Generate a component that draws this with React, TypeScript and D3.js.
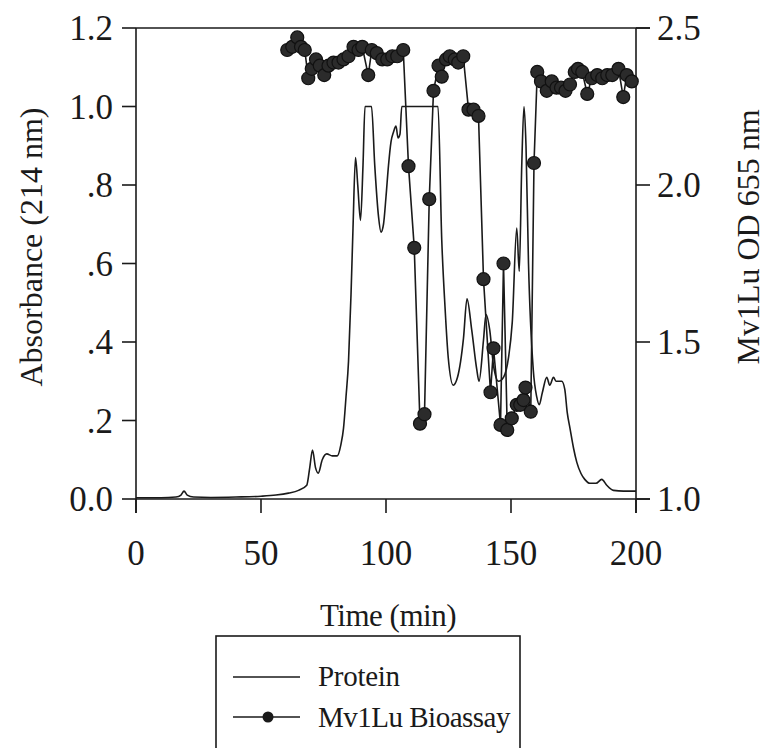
import React from "react";
import * as d3 from "d3";

// Protein absorbance (214 nm) vs time (min)
const proteinTime = [0, 10, 16, 18, 19.2, 20.5, 23, 30, 40, 50, 56, 61, 65, 68.3, 69.5, 70.6, 71.8, 72.9, 74.5, 76.3, 78.5, 80.5, 82, 83, 84, 85, 86, 86.8, 87.8, 88.7, 89.8, 90.8, 91.6, 94.2, 95.5, 97, 98, 99, 100, 101, 102, 103, 104, 104.8, 105.6, 106.3, 120.8, 122.3, 123.6, 124.9, 126.9, 128.6, 131, 132.4, 134.3, 136.3, 137.2, 139, 140, 141.5, 143, 145, 147, 149, 150.5, 152.3, 153.3, 154.3, 155.2, 156, 157, 158.9, 160.3, 161.3, 162.5, 164.3, 165.5, 167, 168, 170.3, 171.5, 172.5, 173.6, 175, 176.3, 178, 179.5, 181.6, 184, 186.3, 188.3, 191, 195, 200];
const proteinAbs = [0.003, 0.003, 0.005, 0.01, 0.02, 0.01, 0.005, 0.004, 0.005, 0.007, 0.01, 0.015, 0.022, 0.035, 0.08, 0.125, 0.08, 0.066, 0.1, 0.115, 0.11, 0.11, 0.14, 0.18, 0.26, 0.35, 0.52, 0.69, 0.87, 0.8, 0.71, 0.85, 1.0, 1.0, 0.85, 0.72, 0.68, 0.7, 0.77, 0.85, 0.91, 0.935, 0.95, 0.92, 0.93, 1.0, 1.0, 0.66, 0.49, 0.36, 0.29, 0.31, 0.41, 0.51, 0.43, 0.33, 0.3, 0.405, 0.47, 0.43, 0.34, 0.3, 0.31, 0.36, 0.45, 0.69, 0.58, 0.85, 1.0, 0.9, 0.6, 0.33, 0.26, 0.24, 0.27, 0.31, 0.29, 0.31, 0.3, 0.3, 0.28, 0.22, 0.18, 0.13, 0.094, 0.065, 0.05, 0.04, 0.04, 0.05, 0.035, 0.022, 0.02, 0.02];

// Mv1Lu bioassay OD 655 nm vs time (min)
const bioTime = [60.5, 62.5, 64.5, 66, 67.5, 68.9, 70.3, 72, 73.5, 75.3, 77, 79, 81, 83, 85, 87, 89, 90.5, 92.9, 94.3, 96.3, 98.5, 100.5, 102.5, 104.5, 106.9, 109, 111.3, 113.6, 115.4, 117.3, 119, 121, 122.3, 124, 125.5, 127.5, 128.9, 130.9, 133, 135, 137, 139, 141.8, 143, 145.8, 147, 148.5, 150.3, 152.3, 153.7, 155, 155.8, 157.9, 159.2, 160.5, 162, 164.3, 166.3, 168.2, 170, 171.8, 173.6, 175.5, 176.8, 178.5, 180.5, 182.3, 184.5, 186.5, 188.5, 190.5, 193, 194.9, 196.3, 198.3];
const bioOD = [2.43, 2.44, 2.47, 2.44, 2.43, 2.34, 2.37, 2.4, 2.38, 2.35, 2.38, 2.39, 2.39, 2.4, 2.41, 2.44, 2.43, 2.44, 2.35, 2.43, 2.42, 2.4, 2.4, 2.41, 2.41, 2.43, 2.06, 1.8, 1.24, 1.27, 1.955, 2.3, 2.38, 2.345, 2.4, 2.41, 2.4, 2.39, 2.41, 2.24, 2.24, 2.22, 1.7, 1.34, 1.48, 1.236, 1.75, 1.22, 1.257, 1.3, 1.3, 1.315, 1.355, 1.278, 2.07, 2.36, 2.33, 2.3, 2.33, 2.31, 2.31, 2.3, 2.32, 2.36, 2.37, 2.36, 2.29, 2.34, 2.35, 2.34, 2.35, 2.35, 2.37, 2.28, 2.35, 2.33];

const xTicks = [0, 50, 100, 150, 200];
const leftTicks = [0, 0.2, 0.4, 0.6, 0.8, 1.0, 1.2];
const leftTickLabels = ["0.0", ".2", ".4", ".6", ".8", "1.0", "1.2"];
const rightTicks = [1.0, 1.5, 2.0, 2.5];
const rightTickLabels = ["1.0", "1.5", "2.0", "2.5"];

const xTitle = "Time (min)";
const leftTitle = "Absorbance (214 nm)";
const rightTitle = "Mv1Lu OD 655 nm";
const legendLabels = ["Protein", "Mv1Lu Bioassay"];

export default function App() {
  const W = 765, H = 748;
  const x0 = 136, x1 = 636, yTop = 28, yBot = 499;
  const x = d3.scaleLinear().domain([0, 200]).range([x0, x1]);
  const yL = d3.scaleLinear().domain([0, 1.2]).range([yBot, yTop]);
  const yR = d3.scaleLinear().domain([1.0, 2.5]).range([yBot, yTop]);
  const tick = 14;
  const ink = "#1a1a1a";
  const font = "'Liberation Serif', 'Times New Roman', serif";
  const tickFs = 35;

  const protein = proteinTime.map((t, i) => [t, proteinAbs[i]] as [number, number]);
  const bio = bioTime.map((t, i) => [t, bioOD[i]] as [number, number]);
  const proteinPath = d3.line<[number, number]>().x(d => x(d[0])).y(d => yL(d[1])).curve(d3.curveMonotoneX)(protein) || "";
  const bioPath = d3.line<[number, number]>().x(d => x(d[0])).y(d => yR(d[1]))(bio) || "";

  return (
    <svg width={W} height={H} style={{ position: "absolute", left: 0, top: 0, background: "#fff" }} fontFamily={font}>
      <rect x={0} y={0} width={W} height={H} fill="#fff" />
      {/* frame */}
      <line x1={x0} x2={x1 + tick} y1={yTop} y2={yTop} stroke={ink} strokeWidth={1.6} />
      <line x1={x0} x2={x1 + tick} y1={yBot} y2={yBot} stroke={ink} strokeWidth={1.6} />
      <line x1={x0} x2={x0} y1={yTop} y2={yBot + tick} stroke={ink} strokeWidth={1.6} />
      <line x1={x1} x2={x1} y1={yTop} y2={yBot + tick} stroke={ink} strokeWidth={1.6} />
      {/* bottom ticks */}
      {xTicks.map(t => (
        <g key={"xt" + t}>
          <line x1={x(t)} x2={x(t)} y1={yBot} y2={yBot + tick} stroke={ink} strokeWidth={1.6} />
          <text x={x(t)} y={565} textAnchor="middle" fontSize={tickFs} fill={ink}>{t}</text>
        </g>
      ))}
      {/* left ticks */}
      {leftTicks.map((t, i) => (
        <g key={"lt" + i}>
          <line x1={x0 - tick} x2={x0} y1={yL(t)} y2={yL(t)} stroke={ink} strokeWidth={1.6} />
          <text x={113} y={yL(t)} dy="0.35em" textAnchor="end" fontSize={tickFs} fill={ink}>{leftTickLabels[i]}</text>
        </g>
      ))}
      {/* right ticks */}
      {rightTicks.map((t, i) => (
        <g key={"rt" + i}>
          <line x1={x1} x2={x1 + tick} y1={yR(t)} y2={yR(t)} stroke={ink} strokeWidth={1.6} />
          <text x={657} y={yR(t)} dy="0.35em" textAnchor="start" fontSize={tickFs} fill={ink}>{rightTickLabels[i]}</text>
        </g>
      ))}
      {/* titles */}
      <text x={388} y={626} textAnchor="middle" fontSize={31} fill={ink} letterSpacing={-0.5}>{xTitle}</text>
      <text transform={`translate(42,247) rotate(-90)`} textAnchor="middle" fontSize={32} fill={ink}>{leftTitle}</text>
      <text transform={`translate(759,237) rotate(-90)`} textAnchor="middle" fontSize={32} fill={ink}>{rightTitle}</text>
      {/* data */}
      <path d={proteinPath} fill="none" stroke={ink} strokeWidth={1.6} strokeLinejoin="round" />
      <path d={bioPath} fill="none" stroke={ink} strokeWidth={1.6} />
      {bio.map((d, i) => (
        <circle key={"b" + i} cx={x(d[0])} cy={yR(d[1])} r={6.5} fill="#2b2b2b" stroke="#111" strokeWidth={1.2} />
      ))}
      {/* legend */}
      <rect x={216} y={636} width={304} height={130} fill="none" stroke={ink} strokeWidth={1.6} />
      <line x1={233} x2={300} y1={677} y2={677} stroke={ink} strokeWidth={1.6} />
      <text x={318} y={686} fontSize={29} fill={ink} letterSpacing={-0.3}>{legendLabels[0]}</text>
      <line x1={233} x2={300} y1={717} y2={717} stroke={ink} strokeWidth={1.6} />
      <circle cx={268} cy={717} r={5.5} fill={ink} />
      <text x={318} y={727} fontSize={29} fill={ink} letterSpacing={-0.5}>{legendLabels[1]}</text>
    </svg>
  );
}
